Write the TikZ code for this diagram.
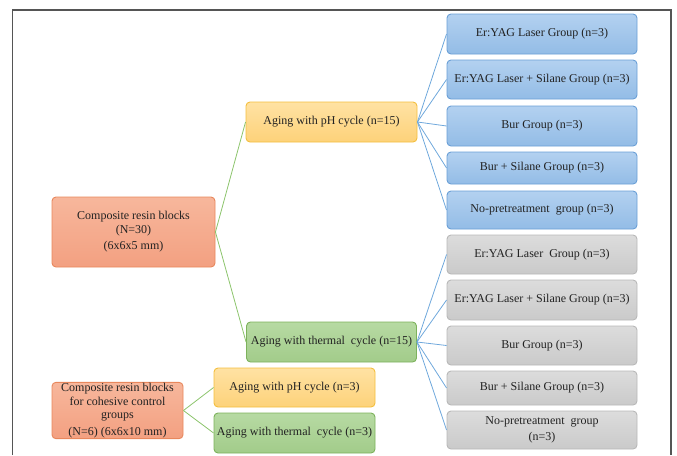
\documentclass[tikz,border=0pt]{standalone}
\usepackage{fontspec}
\setmainfont{Liberation Serif}
\definecolor{txt}{HTML}{222222}
\definecolor{frame}{HTML}{555555}
\definecolor{orT}{HTML}{F7B79C}\definecolor{orB}{HTML}{F3A081}\definecolor{orD}{HTML}{E8875C}
\definecolor{ylT}{HTML}{FFE2A3}\definecolor{ylB}{HTML}{FDD27A}\definecolor{ylD}{HTML}{F4BF3E}
\definecolor{grT}{HTML}{B7DAA3}\definecolor{grB}{HTML}{A2CC8A}\definecolor{grD}{HTML}{7DB25C}
\definecolor{blT}{HTML}{B3D1F0}\definecolor{blB}{HTML}{93BCE6}\definecolor{blD}{HTML}{6A9FD6}
\definecolor{gyT}{HTML}{DCDCDC}\definecolor{gyB}{HTML}{CACACA}\definecolor{gyD}{HTML}{B8B8B8}
\definecolor{lnG}{HTML}{8CC46C}\definecolor{lnB}{HTML}{6FA8DC}
\tikzset{
  basebox/.style={rounded corners=4pt, line width=0.9pt, align=center, text=txt,
    inner sep=1pt, font=\fontsize{12}{13.5}\selectfont},
  orbox/.style={basebox, draw=orD, top color=orT, bottom color=orB},
  ylbox/.style={basebox, draw=ylD, top color=ylT, bottom color=ylB},
  grbox/.style={basebox, draw=grD, top color=grT, bottom color=grB},
  blbox/.style={basebox, draw=blD, top color=blT, bottom color=blB, minimum width=190pt},
  gybox/.style={basebox, draw=gyD, top color=gyT, bottom color=gyB, minimum width=190pt},
  glink/.style={draw=lnG, line width=0.8pt},
  blink/.style={draw=lnB, line width=0.8pt},
}
\begin{document}
\begin{tikzpicture}[x=1pt,y=-1pt]
\useasboundingbox (0,0) rectangle (677,455);
\draw[frame, line width=1.6pt] (12.5,455) -- (12.5,10) -- (671,10) -- (671,455);

\node[orbox, minimum width=163pt, minimum height=70pt] (root) at (133.5,232)
  {Composite resin blocks\\(N=30)\\[3pt](6x6x5 mm)};
\node[ylbox, minimum width=171pt, minimum height=40pt] (ph15) at (331.5,122)
  {Aging with pH cycle (n=15)};
\node[grbox, minimum width=170pt, minimum height=40pt] (th15) at (331.5,342)
  {Aging with thermal\ \ cycle (n=15)};

\node[orbox, minimum width=131pt, minimum height=55pt] (ctrl) at (117.5,410.5)
  {Composite resin blocks\\for cohesive control\\groups\\[3pt](N=6) (6x6x10 mm)};
\node[ylbox, minimum width=161pt, minimum height=39pt] (ph3) at (294.5,387.5)
  {Aging with pH cycle (n=3)};
\node[grbox, minimum width=161pt, minimum height=40pt] (th3) at (294.5,433)
  {Aging with thermal\ \ cycle (n=3)};

\node[blbox, minimum height=40pt] (b1) at (542,34) {Er:YAG Laser Group (n=3)};
\node[blbox, minimum height=39pt] (b2) at (542,79.5) {Er:YAG Laser + Silane Group (n=3)};
\node[blbox, minimum height=40pt] (b3) at (542,126) {Bur Group (n=3)};
\node[blbox, minimum height=32pt] (b4) at (542,168) {Bur + Silane Group (n=3)};
\node[blbox, minimum height=38pt] (b5) at (542,210) {No-pretreatment\ \ group (n=3)};

\node[gybox, minimum height=39pt] (g1) at (542,254.5) {Er:YAG Laser\ \ Group (n=3)};
\node[gybox, minimum height=40pt] (g2) at (542,300) {Er:YAG Laser + Silane Group (n=3)};
\node[gybox, minimum height=39pt] (g3) at (542,345.5) {Bur Group (n=3)};
\node[gybox, minimum height=34pt] (g4) at (542,388) {Bur + Silane Group (n=3)};
\node[gybox, minimum height=38pt] (g5) at (542,430) {No-pretreatment\ \ group\\[2pt](n=3)};

\draw[glink] (root.east) -- (ph15.west);
\draw[glink] (root.east) -- (th15.west);
\draw[glink] (ctrl.east) -- (ph3.west);
\draw[glink] (ctrl.east) -- (th3.west);
\foreach \b in {b1,b2,b3,b4,b5} \draw[blink] (ph15.east) -- (\b.west);
\foreach \g in {g1,g2,g3,g4,g5} \draw[blink] (th15.east) -- (\g.west);
\end{tikzpicture}
\end{document}
